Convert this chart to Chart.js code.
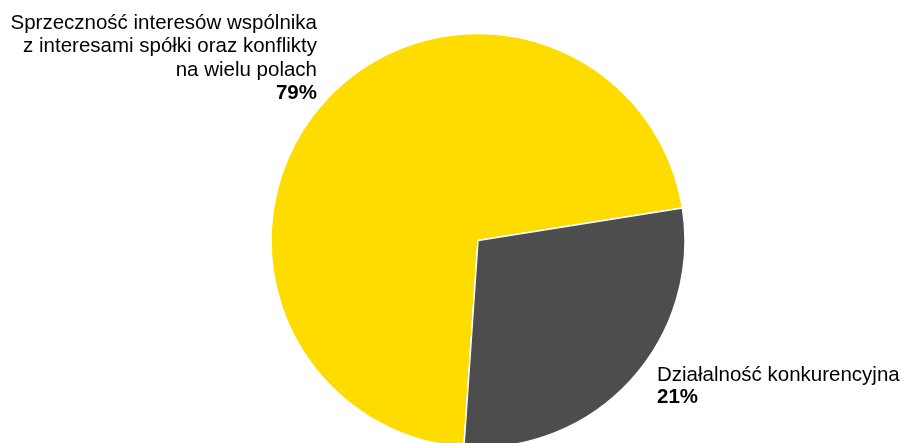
<!DOCTYPE html>
<html>
<head>
<meta charset="utf-8">
<script src="https://cdn.jsdelivr.net/npm/chart.js@4/dist/chart.umd.min.js"></script>
<style>
  html, body { margin: 0; padding: 0; background: #ffffff; }
  #wrap { width: 905px; height: 443px; position: relative; }
</style>
</head>
<body>
<div id="wrap"><canvas id="c" width="905" height="443"></canvas></div>
<script>
// Data
const categories = [
  ["Sprzeczność interesów wspólnika", "z interesami spółki oraz konflikty", "na wielu polach"],
  ["Działalność konkurencyjna"]
];
const sliceValues = [71.4, 28.6];        // drawn slice shares
const percentLabels = ["79%", "21%"];    // printed labels
const sliceColors = ["#FFDC00", "#4D4D4D"];

const FONT = '"Liberation Sans", Arial, sans-serif';
const FS = '20.5px ';

const labelPlugin = {
  id: 'sliceLabels',
  afterDraw(chart) {
    const ctx = chart.ctx;
    ctx.save();
    ctx.fillStyle = '#000000';
    ctx.textBaseline = 'alphabetic';
    // left label (first slice)
    ctx.textAlign = 'right';
    let x = 317, y = 28.5, lh = 23.5;
    categories[0].forEach((line, i) => {
      ctx.font = FS + FONT;
      ctx.fillText(line, x, y + i * lh);
    });
    ctx.font = 'bold ' + FS + FONT;
    ctx.fillText(percentLabels[0], x, y + categories[0].length * lh);
    // right label (second slice)
    ctx.textAlign = 'left';
    x = 657; y = 381; lh = 22;
    categories[1].forEach((line, i) => {
      ctx.font = FS + FONT;
      ctx.fillText(line, x, y + i * lh);
    });
    ctx.font = 'bold ' + FS + FONT;
    ctx.fillText(percentLabels[1], x, y + categories[1].length * lh);
    ctx.restore();
  }
};

new Chart(document.getElementById('c'), {
  type: 'pie',
  data: {
    labels: categories.map(l => l.join(' ')),
    datasets: [{
      data: sliceValues,
      backgroundColor: sliceColors,
      borderColor: '#ffffff',
      borderWidth: 1.5,
      radius: 207,
      clip: false
    }]
  },
  options: {
    responsive: false,
    animation: false,
    rotation: 183.9,
    layout: { padding: { left: 51, right: 0, top: 38, bottom: 0 } },
    plugins: {
      legend: { display: false },
      tooltip: { enabled: false }
    }
  },
  plugins: [labelPlugin]
});
</script>
</body>
</html>
